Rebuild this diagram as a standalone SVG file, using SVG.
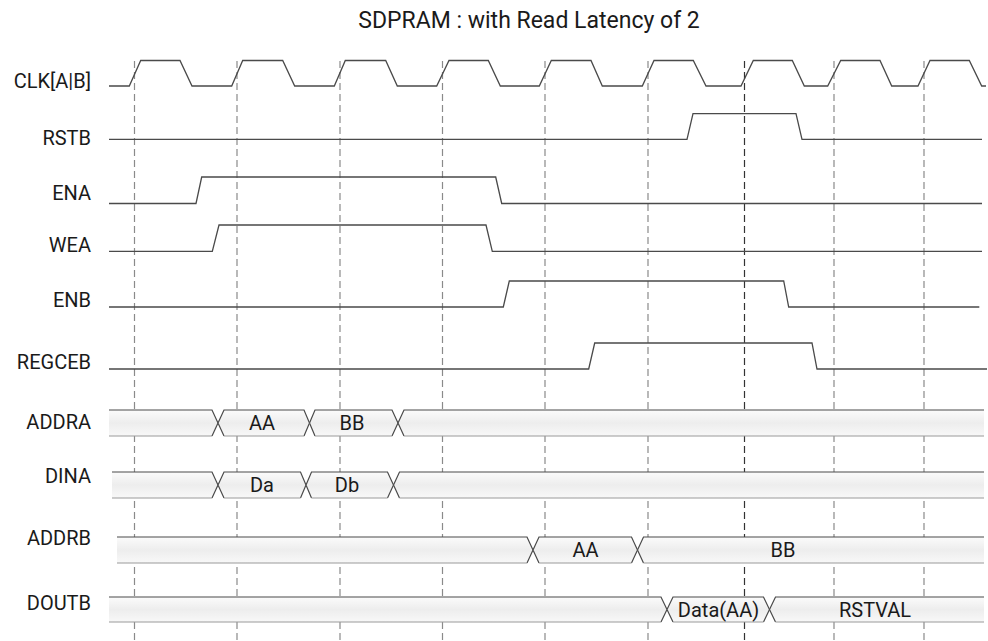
<svg xmlns="http://www.w3.org/2000/svg" width="988" height="641" viewBox="0 0 988 641">
<style>
  text { font-family: Roboto, "Liberation Sans", sans-serif; font-size: 20px; fill: #1a1a1a; }
  .lbl { text-anchor: end; }
  .btxt { text-anchor: middle; }
  .title { text-anchor: middle; font-size: 23px; }
  .sig { fill: none; stroke: #4a4a4a; stroke-width: 1.3; stroke-linejoin: miter; }
  .grid { fill: none; stroke: #8a8a8a; stroke-width: 1.2; stroke-dasharray: 7 4; }
  .grid-dark { stroke: #333; }
  .busfill { fill: url(#busgrad); stroke: none; }
  .busedge { fill: none; stroke: #4a4a4a; stroke-width: 1.2; }
  .busbot { fill: none; stroke: #9a9a9a; stroke-width: 1.2; }
</style>
<defs>
  <linearGradient id="busgrad" x1="0" y1="0" x2="0" y2="1">
    <stop offset="0" stop-color="#fbfbfb"/>
    <stop offset="0.5" stop-color="#ededed"/>
    <stop offset="1" stop-color="#f8f8f8"/>
  </linearGradient>
</defs>

<text class="title" x="529" y="28">SDPRAM : with Read Latency of 2</text>

<g id="gridlines">
  <line class="grid" x1="134.5" y1="61" x2="134.5" y2="641"/>
  <line class="grid" x1="237" y1="61" x2="237" y2="641"/>
  <line class="grid" x1="340" y1="61" x2="340" y2="641"/>
  <line class="grid" x1="442.5" y1="61" x2="442.5" y2="641"/>
  <line class="grid" x1="545" y1="61" x2="545" y2="641"/>
  <line class="grid" x1="648" y1="61" x2="648" y2="641"/>
  <line class="grid grid-dark" x1="744.5" y1="61" x2="744.5" y2="641"/>
  <line class="grid" x1="834" y1="61" x2="834" y2="641"/>
  <line class="grid" x1="924" y1="61" x2="924" y2="641"/>
</g>

<g id="clk">
  <text class="lbl" x="91" y="88">CLK[A|B]</text>
  <path class="sig" d="M109,86 L129.3,86 L140.7,60.5 L180,60.5 L192,86 L231.7,86 L242.7,60.5 L282.7,60.5 L294.7,86 L334.3,86 L345.3,60.5 L385.7,60.5 L397.3,86 L436.7,86 L449,60.5 L488.3,60.5 L500.3,86 L539.3,86 L551.3,60.5 L591,60.5 L602.3,86 L642.3,86 L654,60.5 L693.3,60.5 L706,86 L741,86 L753.3,60.5 L792.3,60.5 L804.3,86 L827.7,86 L840.7,60.5 L880,60.5 L891.7,86 L918,86 L930,60.5 L969.3,60.5 L981.7,86 L986,86"/>
</g>

<g id="rstb">
  <text class="lbl" x="91" y="145">RSTB</text>
  <path class="sig" d="M109,139.3 L687,139.3 L693,113.7 L796,113.7 L802,139.3 L982,139.3"/>
</g>

<g id="ena">
  <text class="lbl" x="91" y="200">ENA</text>
  <path class="sig" d="M109,203.5 L196,203.5 L201.7,177 L495.7,177 L501.7,203.5 L982,203.5"/>
</g>

<g id="wea">
  <text class="lbl" x="91" y="252">WEA</text>
  <path class="sig" d="M109,251.3 L212.3,251.3 L219,225 L486,225 L492.3,251.3 L982,251.3"/>
</g>

<g id="enb">
  <text class="lbl" x="91" y="307">ENB</text>
  <path class="sig" d="M109,307 L503.3,307 L509.3,281 L783.7,281 L788.7,307 L979.3,307"/>
</g>

<g id="regceb">
  <text class="lbl" x="91" y="369">REGCEB</text>
  <path class="sig" d="M109,369 L588.7,369 L594.7,343 L812,343 L817,369 L987,369"/>
</g>

<g id="addra">
  <text class="lbl" x="91" y="429">ADDRA</text>
  <path class="busfill" d="M109,410 L212,410 L218,423 L212,436 L109,436 Z"/>
  <path class="busedge" d="M109,410 L212,410 L218,423"/>
  <path class="busbot" d="M109,436 L212,436"/>
  <path class="busedge" d="M212,436 L218,423"/>
  <path class="busfill" d="M218,423 L224,410 L304,410 L309.5,423 L304,436 L224,436 Z"/>
  <path class="busedge" d="M218,423 L224,410 L304,410 L309.5,423 L304,436 M218,423 L224,436"/>
  <path class="busbot" d="M224,436 L304,436"/>
  <path class="busfill" d="M309.5,423 L315,410 L392,410 L398,423 L392,436 L315,436 Z"/>
  <path class="busedge" d="M309.5,423 L315,410 L392,410 L398,423 L392,436 M309.5,423 L315,436"/>
  <path class="busbot" d="M315,436 L392,436"/>
  <path class="busfill" d="M398,423 L404,410 L984,410 L984,436 L404,436 Z"/>
  <path class="busedge" d="M984,410 L404,410 L398,423 L404,436"/>
  <path class="busbot" d="M404,436 L984,436"/>
  <text class="btxt" x="262" y="430">AA</text>
  <text class="btxt" x="352" y="430">BB</text>
</g>

<g id="dina">
  <text class="lbl" x="91" y="483">DINA</text>
  <path class="busfill" d="M112,472 L212,472 L218,485 L212,498 L112,498 Z"/>
  <path class="busedge" d="M112,472 L212,472 L218,485 L212,498"/>
  <path class="busbot" d="M112,498 L212,498"/>
  <path class="busfill" d="M218,485 L224,472 L300.5,472 L306,485 L300.5,498 L224,498 Z"/>
  <path class="busedge" d="M218,485 L224,472 L300.5,472 L306,485 L300.5,498 M218,485 L224,498"/>
  <path class="busbot" d="M224,498 L300.5,498"/>
  <path class="busfill" d="M306,485 L311.5,472 L387.5,472 L393.5,485 L387.5,498 L311.5,498 Z"/>
  <path class="busedge" d="M306,485 L311.5,472 L387.5,472 L393.5,485 L387.5,498 M306,485 L311.5,498"/>
  <path class="busbot" d="M311.5,498 L387.5,498"/>
  <path class="busfill" d="M393.5,485 L399.5,472 L984,472 L984,498 L399.5,498 Z"/>
  <path class="busedge" d="M984,472 L399.5,472 L393.5,485 L399.5,498"/>
  <path class="busbot" d="M399.5,498 L984,498"/>
  <text class="btxt" x="262" y="492">Da</text>
  <text class="btxt" x="347" y="492">Db</text>
</g>

<g id="addrb">
  <text class="lbl" x="91" y="545">ADDRB</text>
  <path class="busfill" d="M117,537 L527,537 L533,550 L527,563 L117,563 Z"/>
  <path class="busedge" d="M117,537 L527,537 L533,550 L527,563"/>
  <path class="busbot" d="M117,563 L527,563"/>
  <path class="busfill" d="M533,550 L539,537 L631.5,537 L637.5,550 L631.5,563 L539,563 Z"/>
  <path class="busedge" d="M533,550 L539,537 L631.5,537 L637.5,550 L631.5,563 M533,550 L539,563"/>
  <path class="busbot" d="M539,563 L631.5,563"/>
  <path class="busfill" d="M637.5,550 L643.5,537 L984,537 L984,563 L643.5,563 Z"/>
  <path class="busedge" d="M984,537 L643.5,537 L637.5,550 L643.5,563"/>
  <path class="busbot" d="M643.5,563 L984,563"/>
  <text class="btxt" x="585.5" y="557">AA</text>
  <text class="btxt" x="783" y="557">BB</text>
</g>

<g id="doutb">
  <text class="lbl" x="91" y="610">DOUTB</text>
  <path class="busfill" d="M109,597 L661,597 L667,609.5 L661,622 L109,622 Z"/>
  <path class="busedge" d="M109,597 L661,597 L667,609.5 L661,622"/>
  <path class="busbot" d="M109,622 L661,622"/>
  <path class="busfill" d="M667,609.5 L673,597 L763.5,597 L769.5,609.5 L763.5,622 L673,622 Z"/>
  <path class="busedge" d="M667,609.5 L673,597 L763.5,597 L769.5,609.5 L763.5,622 M667,609.5 L673,622"/>
  <path class="busbot" d="M673,622 L763.5,622"/>
  <path class="busfill" d="M769.5,609.5 L775.5,597 L984,597 L984,622 L775.5,622 Z"/>
  <path class="busedge" d="M984,597 L775.5,597 L769.5,609.5 L775.5,622"/>
  <path class="busbot" d="M775.5,622 L984,622"/>
  <text class="btxt" x="718.5" y="617">Data(AA)</text>
  <text class="btxt" x="875" y="617">RSTVAL</text>
</g>
</svg>
